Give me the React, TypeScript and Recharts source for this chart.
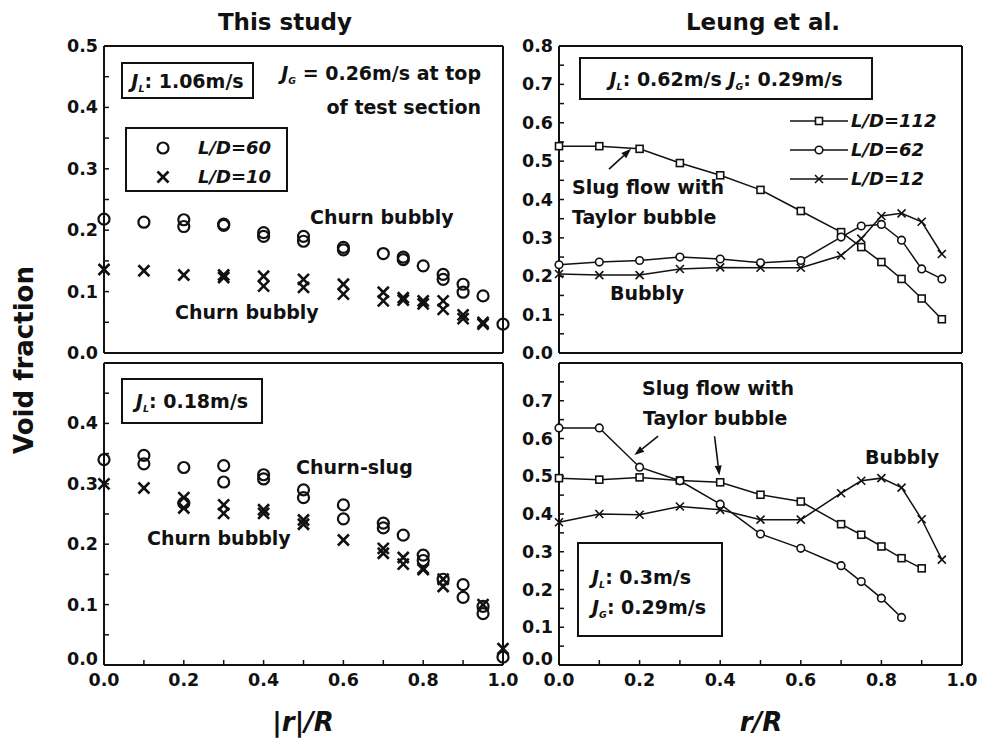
import React from 'react'
import { ComposedChart, Scatter, Line, XAxis, YAxis, ReferenceLine } from 'recharts'

// radial positions r/R
const rAll = [0, 0.1, 0.2, 0.3, 0.4, 0.5, 0.6, 0.7, 0.75, 0.8, 0.85, 0.9, 0.95, 1.0]

// This study, J_L = 1.06 m/s (two runs per station)
const hi60R1 = rAll
const hi60V1 = [0.218, 0.213, 0.217, 0.21, 0.196, 0.19, 0.172, 0.162, 0.156, 0.142, 0.128, 0.112, 0.093, 0.047]
const hi60R2 = [0.2, 0.3, 0.4, 0.5, 0.6, 0.75, 0.85, 0.9]
const hi60V2 = [0.206, 0.208, 0.19, 0.182, 0.168, 0.152, 0.12, 0.099]
const hi10R1 = [0, 0.1, 0.2, 0.3, 0.4, 0.5, 0.6, 0.7, 0.75, 0.8, 0.85, 0.9, 0.95]
const hi10V1 = [0.136, 0.134, 0.127, 0.127, 0.125, 0.12, 0.112, 0.099, 0.09, 0.085, 0.085, 0.062, 0.05]
const hi10R2 = [0.3, 0.4, 0.5, 0.6, 0.7, 0.75, 0.8, 0.85, 0.9, 0.95]
const hi10V2 = [0.123, 0.109, 0.107, 0.096, 0.085, 0.086, 0.08, 0.071, 0.056, 0.047]

// This study, J_L = 0.18 m/s
const lo60R1 = rAll
const lo60V1 = [0.34, 0.347, 0.327, 0.33, 0.315, 0.29, 0.265, 0.235, 0.215, 0.182, 0.142, 0.133, 0.097, 0.013]
const lo60R2 = [0.1, 0.2, 0.3, 0.4, 0.5, 0.6, 0.7, 0.8, 0.9, 0.95]
const lo60V2 = [0.333, 0.268, 0.303, 0.308, 0.277, 0.242, 0.227, 0.173, 0.112, 0.085]
const lo10R1 = [0, 0.1, 0.2, 0.3, 0.4, 0.5, 0.6, 0.7, 0.75, 0.8, 0.85, 0.95, 1.0]
const lo10V1 = [0.3, 0.293, 0.277, 0.265, 0.257, 0.24, 0.207, 0.193, 0.178, 0.16, 0.142, 0.1, 0.027]
const lo10R2 = [0.2, 0.3, 0.4, 0.5, 0.7, 0.75, 0.8, 0.85]
const lo10V2 = [0.26, 0.251, 0.251, 0.233, 0.185, 0.167, 0.158, 0.13]

// Leung et al., J_L = 0.62 m/s
const lgR = [0, 0.1, 0.2, 0.3, 0.4, 0.5, 0.6, 0.7, 0.75, 0.8, 0.85, 0.9, 0.95]
const lgHi112 = [0.539, 0.539, 0.532, 0.495, 0.463, 0.425, 0.37, 0.315, 0.276, 0.237, 0.193, 0.142, 0.088]
const lgHi62 = [0.23, 0.237, 0.241, 0.25, 0.245, 0.235, 0.241, 0.302, 0.331, 0.335, 0.294, 0.219, 0.193]
const lgHi12 = [0.206, 0.203, 0.203, 0.219, 0.223, 0.222, 0.222, 0.254, 0.298, 0.357, 0.364, 0.342, 0.258]

// Leung et al., J_L = 0.3 m/s
const lgLo112 = [0.495, 0.491, 0.497, 0.489, 0.484, 0.451, 0.433, 0.373, 0.345, 0.314, 0.283, 0.256]
const lgLo62 = [0.628, 0.628, 0.524, 0.488, 0.426, 0.347, 0.309, 0.263, 0.221, 0.177, 0.126]
const lgLo12 = [0.378, 0.4, 0.398, 0.42, 0.411, 0.385, 0.385, 0.455, 0.488, 0.495, 0.47, 0.386, 0.279]

// ticks
const xTicks = [0, 0.1, 0.2, 0.3, 0.4, 0.5, 0.6, 0.7, 0.8, 0.9, 1.0]
const leftYTicks = [0, 0.05, 0.1, 0.15, 0.2, 0.25, 0.3, 0.35, 0.4, 0.45, 0.5]
const rightYTicks = [0, 0.05, 0.1, 0.15, 0.2, 0.25, 0.3, 0.35, 0.4, 0.45, 0.5, 0.55, 0.6, 0.65, 0.7, 0.75, 0.8]

// annotation arrows [from, to]
const arrowHi = [{ x: 0.124, y: 0.479 }, { x: 0.179, y: 0.532 }]
const arrowLo1 = [{ x: 0.246, y: 0.606 }, { x: 0.187, y: 0.556 }]
const arrowLo2 = [{ x: 0.386, y: 0.606 }, { x: 0.398, y: 0.502 }]

const INK = '#111'
const FONT = '"DejaVu Sans", sans-serif'
const tickFont = { fontFamily: FONT, fontWeight: 700, fontSize: 17.5, fill: INK }

const pts = (xs: number[], ys: number[]) => xs.map((x, i) => ({ x, y: ys[i] }))

const fmtX = (v: number) => (Math.round(v * 10) % 2 === 0 ? v.toFixed(1) : '')

// y tick label: every 0.1 up to labelMax; the zero label lifted on lower panels
const yTick = (labelMax: number, liftZero: boolean) => (p: any) => {
  const v = p.payload.value
  if (Math.round(v * 100) % 10 !== 0 || v > labelMax + 1e-9) return <g />
  const dy = liftZero && v === 0 ? -6 : 0
  return (
    <text x={p.x} y={p.y + dy} textAnchor="end" dominantBaseline="central" {...tickFont}>
      {v.toFixed(1)}
    </text>
  )
}

// box frame: labelled bottom/left axes plus 1px top/right axes carrying inward ticks
function frame(yMax: number, yTicks: number[], labelMax: number, showX: boolean, yW: number) {
  const line = { stroke: INK, strokeWidth: 2 }
  const tl = { stroke: INK, strokeWidth: 1.5 }
  return [
    <XAxis key="xb" type="number" dataKey="x" domain={[0, 1]} ticks={xTicks} height={showX ? 30 : 1}
      tickSize={-5} tickMargin={14} tick={showX ? tickFont : false} tickFormatter={fmtX}
      axisLine={line} tickLine={tl} interval={0} />,
    <XAxis key="xt" xAxisId="t" orientation="top" type="number" domain={[0, 1]} ticks={xTicks}
      allowDataOverflow height={1} tickSize={-5} tick={false} axisLine={line} tickLine={tl} interval={0} />,
    <YAxis key="yl" type="number" dataKey="y" domain={[0, yMax]} ticks={yTicks} width={yW}
      tickSize={-5} tickMargin={11} tick={yTick(labelMax, showX)}
      axisLine={line} tickLine={tl} interval={0} />,
    <YAxis key="yr" yAxisId="r" orientation="right" type="number" domain={[0, yMax]} ticks={yTicks}
      allowDataOverflow width={1} tickSize={-5} tick={false} axisLine={line} tickLine={tl} interval={0} />,
  ]
}

const OpenCircle = (p: any) => (
  <circle cx={p.cx} cy={p.cy} r={5.5} fill="none" stroke={INK} strokeWidth={2.2} />
)
const BigCross = (p: any) => (
  <g stroke={INK} strokeWidth={2.6}>
    <line x1={p.cx - 5.5} y1={p.cy - 5.5} x2={p.cx + 5.5} y2={p.cy + 5.5} />
    <line x1={p.cx - 5.5} y1={p.cy + 5.5} x2={p.cx + 5.5} y2={p.cy - 5.5} />
  </g>
)

const sqDot = (p: any) => (
  <rect key={`s${p.index}`} x={p.cx - 3.5} y={p.cy - 3.5} width={7} height={7} fill="#fff" stroke={INK} strokeWidth={1.6} />
)
const ciDot = (p: any) => (
  <circle key={`c${p.index}`} cx={p.cx} cy={p.cy} r={3.8} fill="#fff" stroke={INK} strokeWidth={1.6} />
)
const xDot = (p: any) => (
  <g key={`x${p.index}`} stroke={INK} strokeWidth={1.6}>
    <line x1={p.cx - 4} y1={p.cy - 4} x2={p.cx + 4} y2={p.cy + 4} />
    <line x1={p.cx - 4} y1={p.cy + 4} x2={p.cx + 4} y2={p.cy - 4} />
  </g>
)

const arrowShape = (p: any) => {
  const { x1, y1, x2, y2 } = p
  const a = Math.atan2(y2 - y1, x2 - x1)
  const L = 10
  const W = 3.5
  const bx = x2 - L * Math.cos(a)
  const by = y2 - L * Math.sin(a)
  const poly = `${x2},${y2} ${bx + W * Math.sin(a)},${by - W * Math.cos(a)} ${bx - W * Math.sin(a)},${by + W * Math.cos(a)}`
  return (
    <g>
      <line x1={x1} y1={y1} x2={bx} y2={by} stroke={INK} strokeWidth={1.6} />
      <polygon points={poly} fill={INK} />
    </g>
  )
}

function Note({ x, y, size = 19, align = 'left', italic = false, children }: any) {
  const tr = align === 'center' ? 'translate(-50%,-50%)' : align === 'right' ? 'translate(-100%,-50%)' : 'translateY(-50%)'
  return (
    <div style={{ position: 'absolute', left: x, top: y, transform: tr, fontSize: size, fontWeight: 700,
      fontStyle: italic ? 'italic' : 'normal', whiteSpace: 'nowrap', lineHeight: 1, textAlign: align }}>
      {children}
    </div>
  )
}

const J = ({ s }: { s: string }) => (
  <span>
    <i>J</i>
    <span style={{ fontSize: '0.5em', fontStyle: 'italic', position: 'relative', top: '0.45em' }}>{s}</span>
  </span>
)

function Box({ x, y, w, h, children }: any) {
  return (
    <div style={{ position: 'absolute', left: x, top: y, width: w, height: h, border: `2px solid ${INK}`,
      boxSizing: 'border-box', display: 'flex', alignItems: 'center', justifyContent: 'center',
      fontSize: 19, fontWeight: 700, whiteSpace: 'nowrap', background: '#fff' }}>
      {children}
    </div>
  )
}

const LegendMark = ({ kind }: { kind: string }) => (
  <svg width={60} height={12} style={{ display: 'block' }}>
    <line x1={0} y1={6} x2={58} y2={6} stroke={INK} strokeWidth={1.5} />
    {kind === 's' && sqDot({ cx: 29, cy: 6, index: 0 })}
    {kind === 'c' && ciDot({ cx: 29, cy: 6, index: 0 })}
    {kind === 'x' && xDot({ cx: 29, cy: 6, index: 0 })}
  </svg>
)

export default function App() {
  const lineProps = { type: 'linear' as const, dataKey: 'y', stroke: INK, strokeWidth: 1.5, isAnimationActive: false, activeDot: false }
  return (
    <div style={{ position: 'absolute', left: 0, top: 0, width: 984, height: 743, background: '#fff',
      fontFamily: FONT, color: INK, overflow: 'hidden' }}>
      {/* top-left */}
      <div style={{ position: 'absolute', left: 0, top: 0 }}>
        <ComposedChart width={520} height={370} margin={{ top: 45, right: 16, bottom: 16, left: 44 }}>
          {frame(0.5, leftYTicks, 0.5, false, 60)}
          <Scatter data={pts(hi60R1, hi60V1)} shape={OpenCircle} isAnimationActive={false} />
          <Scatter data={pts(hi60R2, hi60V2)} shape={OpenCircle} isAnimationActive={false} />
          <Scatter data={pts(hi10R1, hi10V1)} shape={BigCross} isAnimationActive={false} />
          <Scatter data={pts(hi10R2, hi10V2)} shape={BigCross} isAnimationActive={false} />
        </ComposedChart>
      </div>
      {/* bottom-left */}
      <div style={{ position: 'absolute', left: 0, top: 355 }}>
        <ComposedChart width={520} height={388} margin={{ top: 7, right: 16, bottom: 48, left: 44 }}>
          {frame(0.5, leftYTicks, 0.4, true, 60)}
          <Scatter data={pts(lo60R1, lo60V1)} shape={OpenCircle} isAnimationActive={false} />
          <Scatter data={pts(lo60R2, lo60V2)} shape={OpenCircle} isAnimationActive={false} />
          <Scatter data={pts(lo10R1, lo10V1)} shape={BigCross} isAnimationActive={false} />
          <Scatter data={pts(lo10R2, lo10V2)} shape={BigCross} isAnimationActive={false} />
        </ComposedChart>
      </div>
      {/* top-right */}
      <div style={{ position: 'absolute', left: 500, top: 0 }}>
        <ComposedChart width={484} height={370} margin={{ top: 45, right: 21, bottom: 16, left: 4 }}>
          {frame(0.8, rightYTicks, 0.8, false, 55)}
          <ReferenceLine segment={arrowHi} shape={arrowShape} />
          <Line {...lineProps} data={pts(lgR, lgHi112)} dot={sqDot} />
          <Line {...lineProps} data={pts(lgR, lgHi62)} dot={ciDot} />
          <Line {...lineProps} data={pts(lgR, lgHi12)} dot={xDot} />
        </ComposedChart>
      </div>
      {/* bottom-right */}
      <div style={{ position: 'absolute', left: 500, top: 355 }}>
        <ComposedChart width={484} height={388} margin={{ top: 7, right: 21, bottom: 48, left: 4 }}>
          {frame(0.8, rightYTicks, 0.7, true, 55)}
          <ReferenceLine segment={arrowLo1} shape={arrowShape} />
          <ReferenceLine segment={arrowLo2} shape={arrowShape} />
          <Line {...lineProps} data={pts(lgR.slice(0, 12), lgLo112)} dot={sqDot} />
          <Line {...lineProps} data={pts(lgR.slice(0, 11), lgLo62)} dot={ciDot} />
          <Line {...lineProps} data={pts(lgR, lgLo12)} dot={xDot} />
        </ComposedChart>
      </div>

      {/* titles and axis labels */}
      <Note x={285} y={22} size={23} align="center">This study</Note>
      <Note x={763} y={22} size={23} align="center">Leung et al.</Note>
      <div style={{ position: 'absolute', left: 24, top: 360, transform: 'translate(-50%,-50%) rotate(-90deg)',
        fontSize: 26, fontWeight: 700, whiteSpace: 'nowrap', lineHeight: 1 }}>Void fraction</div>
      <Note x={303} y={722} size={26} align="center" italic>|r|/R</Note>
      <Note x={761} y={722} size={26} align="center" italic>r/R</Note>

      {/* top-left annotations */}
      <Box x={121} y={62} w={133} h={37}><J s="L" />: 1.06m/s</Box>
      <div style={{ position: 'absolute', right: 984 - 481, top: 58, fontSize: 19, fontWeight: 700, lineHeight: '30px', textAlign: 'right', whiteSpace: 'nowrap' }}>
        <J s="G" /> = 0.26m/s at top<br />of test section
      </div>
      <div style={{ position: 'absolute', left: 125, top: 127, width: 163, height: 65, border: `2px solid ${INK}`, boxSizing: 'border-box' }} />
      <svg style={{ position: 'absolute', left: 150, top: 135 }} width={28} height={52}>
        {OpenCircle({ cx: 13, cy: 13 })}
        {BigCross({ cx: 13, cy: 42 })}
      </svg>
      <Note x={198} y={148} size={18} italic>L/D=60</Note>
      <Note x={198} y={177} size={18} italic>L/D=10</Note>
      <Note x={310} y={217}>Churn bubbly</Note>
      <Note x={175} y={312}>Churn bubbly</Note>

      {/* bottom-left annotations */}
      <Box x={121} y={378} w={142} h={46}><J s="L" />: 0.18m/s</Box>
      <Note x={296} y={467}>Churn-slug</Note>
      <Note x={147} y={538}>Churn bubbly</Note>

      {/* top-right annotations */}
      <Box x={579} y={57} w={294} h={43}><J s="L" />: 0.62m/s&nbsp;<J s="G" />: 0.29m/s</Box>
      {[['s', 'L/D=112', 121], ['c', 'L/D=62', 150], ['x', 'L/D=12', 179]].map(([k, t, y]) => (
        <div key={t as string}>
          <div style={{ position: 'absolute', left: 790, top: (y as number) - 6 }}><LegendMark kind={k as string} /></div>
          <Note x={851} y={y} size={18} italic>{t}</Note>
        </div>
      ))}
      <Note x={572} y={187}>Slug flow with</Note>
      <Note x={572} y={217}>Taylor bubble</Note>
      <Note x={610} y={293}>Bubbly</Note>

      {/* bottom-right annotations */}
      <Note x={642} y={388}>Slug flow with</Note>
      <Note x={643} y={418}>Taylor bubble</Note>
      <Note x={865} y={457}>Bubbly</Note>
      <div style={{ position: 'absolute', left: 577, top: 542, width: 146, height: 95, border: `2px solid ${INK}`, boxSizing: 'border-box' }} />
      <Note x={592} y={577}><J s="L" />: 0.3m/s</Note>
      <Note x={592} y={607}><J s="G" />: 0.29m/s</Note>
    </div>
  )
}
